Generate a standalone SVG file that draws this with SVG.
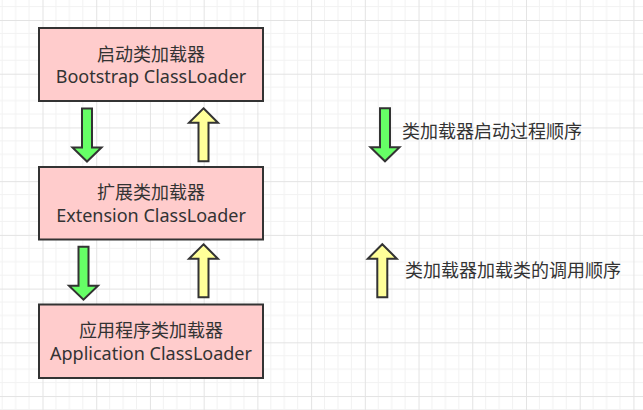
<svg xmlns="http://www.w3.org/2000/svg" xmlns:xlink="http://www.w3.org/1999/xlink" width="643" height="410" viewBox="0 0 643 410">
<style>
.box{fill:#ffcccc;stroke:#333333;stroke-width:2}
.t{font-family:"Noto Sans","Noto Sans CJK SC",sans-serif;font-size:18px;fill:#333333;text-anchor:middle}
.cn{font-family:"Noto Sans CJK SC",sans-serif;font-size:18px;fill:#333333}
.green{fill:#66ff66;stroke:#333333;stroke-width:2;stroke-linejoin:miter}
.yellow{fill:#ffff99;stroke:#333333;stroke-width:2;stroke-linejoin:miter}
</style>
<defs>
<pattern id="grid" patternUnits="userSpaceOnUse" x="42.5" y="20" width="53.72" height="53.72">
<path d="M13.43 0V53.72M26.86 0V53.72M40.29 0V53.72M0 13.43H53.72M0 26.86H53.72M0 40.29H53.72" stroke="#f2f2f2" stroke-width="1" fill="none"/>
<path d="M0.5 0V53.72M0 0.5H53.72" stroke="#e3e3e3" stroke-width="1" fill="none"/>
</pattern>
<path id="down" d="M-5 0H5V39H14.5L0 53L-14.5 39H-5Z"/>
<path id="up" d="M0 0L14.5 14.5H5V53H-5V14.5H-14.5Z"/>
</defs>
<rect width="643" height="410" fill="#ffffff"/>
<rect width="643" height="410" fill="url(#grid)"/>
<g id="bootstrap">
<rect class="box" x="39" y="28" width="224" height="73"/>
<text class="t" x="151" y="60.5">启动类加载器</text>
<text class="t" x="151" y="83">Bootstrap ClassLoader</text>
</g>
<g id="extension">
<rect class="box" x="39" y="167" width="224" height="72.5"/>
<text class="t" x="151" y="199.3">扩展类加载器</text>
<text class="t" x="151" y="221.8">Extension ClassLoader</text>
</g>
<g id="application">
<rect class="box" x="39" y="304.5" width="224" height="73.5"/>
<text class="t" x="151" y="337.3">应用程序类加载器</text>
<text class="t" x="151" y="359.8">Application ClassLoader</text>
</g>
<g id="connectors">
<use xlink:href="#down" class="green" x="87" y="108.5"/>
<use xlink:href="#up" class="yellow" x="203.5" y="108.3"/>
<use xlink:href="#down" class="green" x="83.5" y="246.7"/>
<use xlink:href="#up" class="yellow" x="203.5" y="244.3"/>
</g>
<g id="legend">
<use xlink:href="#down" class="green" x="385" y="108.3"/>
<text class="cn" x="402" y="137.5">类加载器启动过程顺序</text>
<use xlink:href="#up" class="yellow" x="382.3" y="244.2"/>
<text class="cn" x="405" y="276.5">类加载器加载类的调用顺序</text>
</g>
</svg>
